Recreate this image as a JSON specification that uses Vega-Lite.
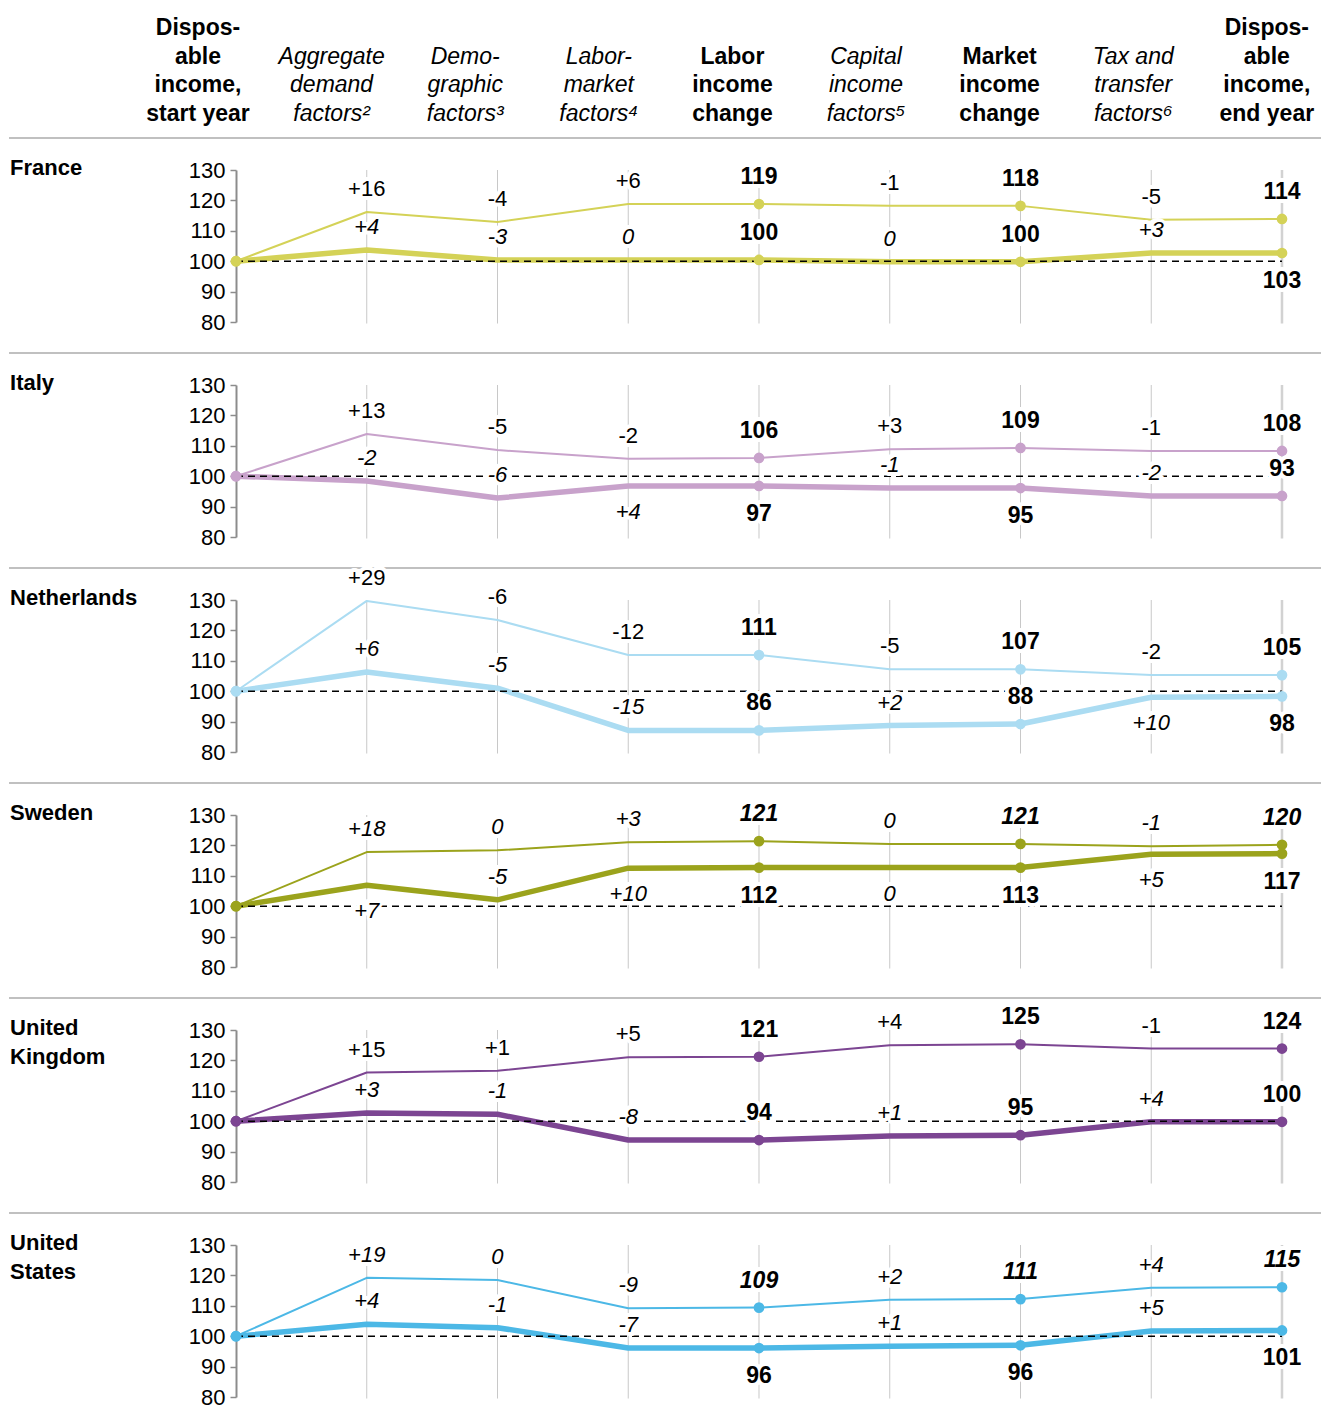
{
  "$schema": "https://vega.github.io/schema/vega-lite/v6.json",
  "padding": {"left": 8, "top": 0, "right": 0, "bottom": 0},
  "background": "white",
  "bounds": "flush",
  "spacing": 46,
  "config": {
    "view": {"stroke": null},
    "font": "Liberation Sans",
    "axis": {"title": null},
    "axisY": {"labelOverlap": false, "tickCount": 6, "labelFontSize": 22, "labelColor": "black", "labelPadding": 5, "domainColor": "#8c8c8c", "domainWidth": 2, "tickColor": "#8c8c8c", "tickSize": 6, "tickWidth": 1.5, "grid": false}
  },
  "resolve": {"scale": {"x": "independent", "y": "independent"}},
  "datasets": {
    "header": [
      {"step": 0, "title": "Dispos-|able|income,|start year"},
      {"step": 1, "title": "Aggregate|demand|factors²"},
      {"step": 2, "title": "Demo-|graphic|factors³"},
      {"step": 3, "title": "Labor-|market|factors⁴"},
      {"step": 4, "title": "Labor|income|change"},
      {"step": 5, "title": "Capital|income|factors⁵"},
      {"step": 6, "title": "Market|income|change"},
      {"step": 7, "title": "Tax and|transfer|factors⁶"},
      {"step": 8, "title": "Dispos-|able|income,|end year"}
    ],
    "panels": [
      {"country": "France", "series": "S1", "step": 0, "value": 100, "label": "", "side": ""},
      {"country": "France", "series": "S1", "step": 1, "value": 116.2, "label": "+16", "side": "above"},
      {"country": "France", "series": "S1", "step": 2, "value": 112.9, "label": "-4", "side": "above"},
      {"country": "France", "series": "S1", "step": 3, "value": 118.8, "label": "+6", "side": "above"},
      {"country": "France", "series": "S1", "step": 4, "value": 118.8, "label": "119", "side": "above"},
      {"country": "France", "series": "S1", "step": 5, "value": 118.2, "label": "-1", "side": "above"},
      {"country": "France", "series": "S1", "step": 6, "value": 118.2, "label": "118", "side": "above"},
      {"country": "France", "series": "S1", "step": 7, "value": 113.6, "label": "-5", "side": "above"},
      {"country": "France", "series": "S1", "step": 8, "value": 113.9, "label": "114", "side": "above"},
      {"country": "France", "series": "S2", "step": 0, "value": 100, "label": "", "side": ""},
      {"country": "France", "series": "S2", "step": 1, "value": 103.7, "label": "+4", "side": "above"},
      {"country": "France", "series": "S2", "step": 2, "value": 100.4, "label": "-3", "side": "above"},
      {"country": "France", "series": "S2", "step": 3, "value": 100.4, "label": "0", "side": "above"},
      {"country": "France", "series": "S2", "step": 4, "value": 100.4, "label": "100", "side": "above"},
      {"country": "France", "series": "S2", "step": 5, "value": 99.8, "label": "0", "side": "above"},
      {"country": "France", "series": "S2", "step": 6, "value": 99.8, "label": "100", "side": "above"},
      {"country": "France", "series": "S2", "step": 7, "value": 102.7, "label": "+3", "side": "above"},
      {"country": "France", "series": "S2", "step": 8, "value": 102.7, "label": "103", "side": "below"},

      {"country": "Italy", "series": "S1", "step": 0, "value": 100, "label": "", "side": ""},
      {"country": "Italy", "series": "S1", "step": 1, "value": 113.9, "label": "+13", "side": "above"},
      {"country": "Italy", "series": "S1", "step": 2, "value": 108.6, "label": "-5", "side": "above"},
      {"country": "Italy", "series": "S1", "step": 3, "value": 105.7, "label": "-2", "side": "above"},
      {"country": "Italy", "series": "S1", "step": 4, "value": 106, "label": "106", "side": "above"},
      {"country": "Italy", "series": "S1", "step": 5, "value": 108.9, "label": "+3", "side": "above"},
      {"country": "Italy", "series": "S1", "step": 6, "value": 109.3, "label": "109", "side": "above"},
      {"country": "Italy", "series": "S1", "step": 7, "value": 108.3, "label": "-1", "side": "above"},
      {"country": "Italy", "series": "S1", "step": 8, "value": 108.3, "label": "108", "side": "above"},
      {"country": "Italy", "series": "S2", "step": 0, "value": 100, "label": "", "side": ""},
      {"country": "Italy", "series": "S2", "step": 1, "value": 98.4, "label": "-2", "side": "above"},
      {"country": "Italy", "series": "S2", "step": 2, "value": 92.8, "label": "-6", "side": "above"},
      {"country": "Italy", "series": "S2", "step": 3, "value": 96.8, "label": "+4", "side": "below"},
      {"country": "Italy", "series": "S2", "step": 4, "value": 96.8, "label": "97", "side": "below"},
      {"country": "Italy", "series": "S2", "step": 5, "value": 96.1, "label": "-1", "side": "above"},
      {"country": "Italy", "series": "S2", "step": 6, "value": 96.1, "label": "95", "side": "below"},
      {"country": "Italy", "series": "S2", "step": 7, "value": 93.5, "label": "-2", "side": "above"},
      {"country": "Italy", "series": "S2", "step": 8, "value": 93.5, "label": "93", "side": "above"},

      {"country": "Netherlands", "series": "S1", "step": 0, "value": 100, "label": "", "side": ""},
      {"country": "Netherlands", "series": "S1", "step": 1, "value": 129.7, "label": "+29", "side": "above"},
      {"country": "Netherlands", "series": "S1", "step": 2, "value": 123.4, "label": "-6", "side": "above"},
      {"country": "Netherlands", "series": "S1", "step": 3, "value": 111.9, "label": "-12", "side": "above"},
      {"country": "Netherlands", "series": "S1", "step": 4, "value": 111.9, "label": "111", "side": "above"},
      {"country": "Netherlands", "series": "S1", "step": 5, "value": 107.2, "label": "-5", "side": "above"},
      {"country": "Netherlands", "series": "S1", "step": 6, "value": 107.2, "label": "107", "side": "above"},
      {"country": "Netherlands", "series": "S1", "step": 7, "value": 105.3, "label": "-2", "side": "above"},
      {"country": "Netherlands", "series": "S1", "step": 8, "value": 105.3, "label": "105", "side": "above"},
      {"country": "Netherlands", "series": "S2", "step": 0, "value": 100, "label": "", "side": ""},
      {"country": "Netherlands", "series": "S2", "step": 1, "value": 106.3, "label": "+6", "side": "above"},
      {"country": "Netherlands", "series": "S2", "step": 2, "value": 101, "label": "-5", "side": "above"},
      {"country": "Netherlands", "series": "S2", "step": 3, "value": 87.1, "label": "-15", "side": "above"},
      {"country": "Netherlands", "series": "S2", "step": 4, "value": 87.1, "label": "86", "side": "above"},
      {"country": "Netherlands", "series": "S2", "step": 5, "value": 88.7, "label": "+2", "side": "above"},
      {"country": "Netherlands", "series": "S2", "step": 6, "value": 89.2, "label": "88", "side": "above"},
      {"country": "Netherlands", "series": "S2", "step": 7, "value": 98, "label": "+10", "side": "below"},
      {"country": "Netherlands", "series": "S2", "step": 8, "value": 98.3, "label": "98", "side": "below"},

      {"country": "Sweden", "series": "S1", "step": 0, "value": 100, "label": "", "side": ""},
      {"country": "Sweden", "series": "S1", "step": 1, "value": 117.8, "label": "+18", "side": "above"},
      {"country": "Sweden", "series": "S1", "step": 2, "value": 118.4, "label": "0", "side": "above"},
      {"country": "Sweden", "series": "S1", "step": 3, "value": 121, "label": "+3", "side": "above"},
      {"country": "Sweden", "series": "S1", "step": 4, "value": 121.4, "label": "121", "side": "above"},
      {"country": "Sweden", "series": "S1", "step": 5, "value": 120.5, "label": "0", "side": "above"},
      {"country": "Sweden", "series": "S1", "step": 6, "value": 120.5, "label": "121", "side": "above"},
      {"country": "Sweden", "series": "S1", "step": 7, "value": 119.7, "label": "-1", "side": "above"},
      {"country": "Sweden", "series": "S1", "step": 8, "value": 120.2, "label": "120", "side": "above"},
      {"country": "Sweden", "series": "S2", "step": 0, "value": 100, "label": "", "side": ""},
      {"country": "Sweden", "series": "S2", "step": 1, "value": 106.9, "label": "+7", "side": "below"},
      {"country": "Sweden", "series": "S2", "step": 2, "value": 102.1, "label": "-5", "side": "above"},
      {"country": "Sweden", "series": "S2", "step": 3, "value": 112.5, "label": "+10", "side": "below"},
      {"country": "Sweden", "series": "S2", "step": 4, "value": 112.7, "label": "112", "side": "below"},
      {"country": "Sweden", "series": "S2", "step": 5, "value": 112.7, "label": "0", "side": "below"},
      {"country": "Sweden", "series": "S2", "step": 6, "value": 112.7, "label": "113", "side": "below"},
      {"country": "Sweden", "series": "S2", "step": 7, "value": 117.1, "label": "+5", "side": "below"},
      {"country": "Sweden", "series": "S2", "step": 8, "value": 117.3, "label": "117", "side": "below"},

      {"country": "United Kingdom", "series": "S1", "step": 0, "value": 100, "label": "", "side": ""},
      {"country": "United Kingdom", "series": "S1", "step": 1, "value": 116, "label": "+15", "side": "above"},
      {"country": "United Kingdom", "series": "S1", "step": 2, "value": 116.6, "label": "+1", "side": "above"},
      {"country": "United Kingdom", "series": "S1", "step": 3, "value": 121, "label": "+5", "side": "above"},
      {"country": "United Kingdom", "series": "S1", "step": 4, "value": 121.2, "label": "121", "side": "above"},
      {"country": "United Kingdom", "series": "S1", "step": 5, "value": 125, "label": "+4", "side": "above"},
      {"country": "United Kingdom", "series": "S1", "step": 6, "value": 125.3, "label": "125", "side": "above"},
      {"country": "United Kingdom", "series": "S1", "step": 7, "value": 123.9, "label": "-1", "side": "above"},
      {"country": "United Kingdom", "series": "S1", "step": 8, "value": 123.9, "label": "124", "side": "above"},
      {"country": "United Kingdom", "series": "S2", "step": 0, "value": 100, "label": "", "side": ""},
      {"country": "United Kingdom", "series": "S2", "step": 1, "value": 102.7, "label": "+3", "side": "above"},
      {"country": "United Kingdom", "series": "S2", "step": 2, "value": 102.3, "label": "-1", "side": "above"},
      {"country": "United Kingdom", "series": "S2", "step": 3, "value": 93.8, "label": "-8", "side": "above"},
      {"country": "United Kingdom", "series": "S2", "step": 4, "value": 93.8, "label": "94", "side": "above"},
      {"country": "United Kingdom", "series": "S2", "step": 5, "value": 95.1, "label": "+1", "side": "above"},
      {"country": "United Kingdom", "series": "S2", "step": 6, "value": 95.4, "label": "95", "side": "above"},
      {"country": "United Kingdom", "series": "S2", "step": 7, "value": 99.8, "label": "+4", "side": "above"},
      {"country": "United Kingdom", "series": "S2", "step": 8, "value": 99.8, "label": "100", "side": "above"},

      {"country": "United States", "series": "S1", "step": 0, "value": 100, "label": "", "side": ""},
      {"country": "United States", "series": "S1", "step": 1, "value": 119.2, "label": "+19", "side": "above"},
      {"country": "United States", "series": "S1", "step": 2, "value": 118.5, "label": "0", "side": "above"},
      {"country": "United States", "series": "S1", "step": 3, "value": 109.2, "label": "-9", "side": "above"},
      {"country": "United States", "series": "S1", "step": 4, "value": 109.4, "label": "109", "side": "above"},
      {"country": "United States", "series": "S1", "step": 5, "value": 112, "label": "+2", "side": "above"},
      {"country": "United States", "series": "S1", "step": 6, "value": 112.2, "label": "111", "side": "above"},
      {"country": "United States", "series": "S1", "step": 7, "value": 115.9, "label": "+4", "side": "above"},
      {"country": "United States", "series": "S1", "step": 8, "value": 116.1, "label": "115", "side": "above"},
      {"country": "United States", "series": "S2", "step": 0, "value": 100, "label": "", "side": ""},
      {"country": "United States", "series": "S2", "step": 1, "value": 103.9, "label": "+4", "side": "above"},
      {"country": "United States", "series": "S2", "step": 2, "value": 102.8, "label": "-1", "side": "above"},
      {"country": "United States", "series": "S2", "step": 3, "value": 96.1, "label": "-7", "side": "above"},
      {"country": "United States", "series": "S2", "step": 4, "value": 96.1, "label": "96", "side": "below"},
      {"country": "United States", "series": "S2", "step": 5, "value": 96.7, "label": "+1", "side": "above"},
      {"country": "United States", "series": "S2", "step": 6, "value": 97, "label": "96", "side": "below"},
      {"country": "United States", "series": "S2", "step": 7, "value": 101.7, "label": "+5", "side": "above"},
      {"country": "United States", "series": "S2", "step": 8, "value": 101.9, "label": "101", "side": "below"}
    ]
  },
  "vconcat": [
    {
      "width": 1086,
      "height": 124,
      "data": {"name": "header"},
      "encoding": {
        "x": {"field": "step", "type": "quantitative", "scale": {"domain": [0.2844, 8.413], "nice": false, "zero": false}, "axis": null},
        "text": {"field": "title"}
      },
      "layer": [
        {
          "transform": [{"filter": "datum.step == 0 || datum.step == 8"}],
          "mark": {"type": "text", "baseline": "top", "align": "center", "lineBreak": "|", "lineHeight": 28.5, "fontSize": 23, "fontWeight": "bold", "color": "black"},
          "encoding": {"y": {"datum": 0.86, "type": "quantitative", "scale": {"domain": [0, 1], "nice": false}, "axis": null}}
        },
        {
          "transform": [{"filter": "datum.step == 4 || datum.step == 6"}],
          "mark": {"type": "text", "baseline": "top", "align": "center", "lineBreak": "|", "lineHeight": 28.5, "fontSize": 23, "fontWeight": "bold", "color": "black"},
          "encoding": {"y": {"datum": 0.63, "type": "quantitative"}}
        },
        {
          "transform": [{"filter": "indexof([0,4,6,8], datum.step) < 0"}],
          "mark": {"type": "text", "baseline": "top", "align": "center", "lineBreak": "|", "lineHeight": 28.5, "fontSize": 23, "fontStyle": "italic", "color": "black"},
          "encoding": {"y": {"datum": 0.63, "type": "quantitative"}}
        }
      ]
    },
    {
      "data": {"name": "panels"},
      "bounds": "flush",
      "spacing": 63,
      "facet": {
        "row": {"field": "country", "type": "nominal", "header": null,
                "sort": ["France", "Italy", "Netherlands", "Sweden", "United Kingdom", "United States"]}
      },
      "spec": {
        "width": 1086,
        "height": 152,
        "layer": [
          {
            "mark": {"type": "point", "opacity": 0},
            "encoding": {
              "x": {"field": "step", "type": "quantitative", "scale": {"domain": [0, 8.306], "nice": false, "zero": false}, "axis": null},
              "y": {"field": "value", "type": "quantitative", "scale": {"domain": [80, 130], "nice": false, "zero": false},
                    "axis": {"values": [80, 90, 100, 110, 120, 130], "tickCount": 6, "labelOverlap": false, "title": null}}
            }
          },
          {
            "transform": [{"filter": "datum.series == 'S1' && datum.step >= 1 && datum.step <= 7"}],
            "mark": {"type": "rule", "color": "#c8c8c8", "strokeWidth": 1},
            "encoding": {
              "x": {"field": "step", "type": "quantitative"},
              "y": {"datum": 130, "type": "quantitative"},
              "y2": {"datum": 79.5}
            }
          },
          {
            "transform": [{"filter": "datum.series == 'S1' && datum.step == 8"}],
            "mark": {"type": "rule", "color": "#d2d2d2", "strokeWidth": 2.5},
            "encoding": {
              "x": {"field": "step", "type": "quantitative"},
              "y": {"datum": 79.5, "type": "quantitative"},
              "y2": {"datum": 130}
            }
          },
          {
            "transform": [{"filter": "datum.step == 0 && datum.series == 'S1'"}],
            "mark": {"type": "rule", "color": "#c0c0c0", "strokeWidth": 2, "clip": false},
            "encoding": {
              "x": {"datum": -1.736, "type": "quantitative"},
              "x2": {"datum": 8.306},
              "y": {"datum": 140.5, "type": "quantitative"}
            }
          },
          {
            "transform": [{"filter": "datum.step == 0 && datum.series == 'S1'"}],
            "mark": {"type": "text", "align": "left", "baseline": "top", "fontSize": 22, "fontWeight": "bold", "lineBreak": " ", "lineHeight": 29, "color": "black"},
            "encoding": {
              "x": {"datum": -1.728, "type": "quantitative"},
              "y": {"datum": 134.0, "type": "quantitative"},
              "text": {"field": "country"}
            }
          },
          {
            "mark": {"type": "line", "strokeJoin": "round"},
            "encoding": {
              "x": {"field": "step", "type": "quantitative"},
              "y": {"field": "value", "type": "quantitative"},
              "detail": {"field": "series"},
              "color": {"field": "country", "type": "nominal", "legend": null,
                        "scale": {"domain": ["France", "Italy", "Netherlands", "Sweden", "United Kingdom", "United States"],
                                  "range": ["#d4d257", "#c8a2cb", "#abdcf2", "#9ba31c", "#7c4592", "#4cb8e6"]}},
              "strokeWidth": {"field": "series", "type": "nominal", "legend": null, "scale": {"domain": ["S1", "S2"], "range": [2, 5.5]}}
            }
          },
          {
            "transform": [{"filter": "datum.step == 0 && datum.series == 'S1'"}],
            "mark": {"type": "rule", "color": "black", "strokeWidth": 1.5, "strokeDash": [7, 5]},
            "encoding": {
              "x": {"datum": 0, "type": "quantitative"},
              "x2": {"datum": 8},
              "y": {"datum": 100, "type": "quantitative"}
            }
          },
          {
            "transform": [{"filter": "indexof([0,4,6,8], datum.step) >= 0"}],
            "mark": {"type": "circle", "size": 115, "opacity": 1},
            "encoding": {
              "x": {"field": "step", "type": "quantitative"},
              "y": {"field": "value", "type": "quantitative"},
              "color": {"field": "country", "type": "nominal", "legend": null}
            }
          },
          {
            "transform": [{"filter": "indexof([1,2,3,5,7], datum.step) >= 0 && datum.side == 'above'"}],
            "mark": {"type": "text", "dy": -23, "fontSize": 22, "fill": "white", "stroke": "white", "strokeWidth": 8, "strokeJoin": "round"},
            "encoding": {"x": {"field": "step", "type": "quantitative"}, "y": {"field": "value", "type": "quantitative"}, "text": {"field": "label"}}
          },
          {
            "transform": [{"filter": "indexof([1,2,3,5,7], datum.step) >= 0 && datum.side == 'below'"}],
            "mark": {"type": "text", "dy": 26, "fontSize": 22, "fill": "white", "stroke": "white", "strokeWidth": 8, "strokeJoin": "round"},
            "encoding": {"x": {"field": "step", "type": "quantitative"}, "y": {"field": "value", "type": "quantitative"}, "text": {"field": "label"}}
          },
          {
            "transform": [{"filter": "indexof([4,6,8], datum.step) >= 0 && datum.side == 'above'"}],
            "mark": {"type": "text", "dy": -27, "fontSize": 23, "fontWeight": "bold", "fill": "white", "stroke": "white", "strokeWidth": 8, "strokeJoin": "round"},
            "encoding": {"x": {"field": "step", "type": "quantitative"}, "y": {"field": "value", "type": "quantitative"}, "text": {"field": "label"}}
          },
          {
            "transform": [{"filter": "indexof([4,6,8], datum.step) >= 0 && datum.side == 'below'"}],
            "mark": {"type": "text", "dy": 28, "fontSize": 23, "fontWeight": "bold", "fill": "white", "stroke": "white", "strokeWidth": 8, "strokeJoin": "round"},
            "encoding": {"x": {"field": "step", "type": "quantitative"}, "y": {"field": "value", "type": "quantitative"}, "text": {"field": "label"}}
          },
          {
            "transform": [{"filter": "indexof([1,2,3,5,7], datum.step) >= 0 && datum.side == 'above' && !(datum.series == 'S2' || datum.country == 'Sweden' || datum.country == 'United States')"}],
            "mark": {"type": "text", "dy": -23, "fontSize": 22, "color": "black"},
            "encoding": {"x": {"field": "step", "type": "quantitative"}, "y": {"field": "value", "type": "quantitative"}, "text": {"field": "label"}}
          },
          {
            "transform": [{"filter": "indexof([1,2,3,5,7], datum.step) >= 0 && datum.side == 'above' && (datum.series == 'S2' || datum.country == 'Sweden' || datum.country == 'United States')"}],
            "mark": {"type": "text", "dy": -23, "fontSize": 22, "fontStyle": "italic", "color": "black"},
            "encoding": {"x": {"field": "step", "type": "quantitative"}, "y": {"field": "value", "type": "quantitative"}, "text": {"field": "label"}}
          },
          {
            "transform": [{"filter": "indexof([1,2,3,5,7], datum.step) >= 0 && datum.side == 'below' && !(datum.series == 'S2' || datum.country == 'Sweden' || datum.country == 'United States')"}],
            "mark": {"type": "text", "dy": 26, "fontSize": 22, "color": "black"},
            "encoding": {"x": {"field": "step", "type": "quantitative"}, "y": {"field": "value", "type": "quantitative"}, "text": {"field": "label"}}
          },
          {
            "transform": [{"filter": "indexof([1,2,3,5,7], datum.step) >= 0 && datum.side == 'below' && (datum.series == 'S2' || datum.country == 'Sweden' || datum.country == 'United States')"}],
            "mark": {"type": "text", "dy": 26, "fontSize": 22, "fontStyle": "italic", "color": "black"},
            "encoding": {"x": {"field": "step", "type": "quantitative"}, "y": {"field": "value", "type": "quantitative"}, "text": {"field": "label"}}
          },
          {
            "transform": [{"filter": "indexof([4,6,8], datum.step) >= 0 && datum.side == 'above' && !(datum.series == 'S1' && (datum.country == 'Sweden' || datum.country == 'United States'))"}],
            "mark": {"type": "text", "dy": -27, "fontSize": 23, "fontWeight": "bold", "color": "black"},
            "encoding": {"x": {"field": "step", "type": "quantitative"}, "y": {"field": "value", "type": "quantitative"}, "text": {"field": "label"}}
          },
          {
            "transform": [{"filter": "indexof([4,6,8], datum.step) >= 0 && datum.side == 'above' && (datum.series == 'S1' && (datum.country == 'Sweden' || datum.country == 'United States'))"}],
            "mark": {"type": "text", "dy": -27, "fontSize": 23, "fontWeight": "bold", "fontStyle": "italic", "color": "black"},
            "encoding": {"x": {"field": "step", "type": "quantitative"}, "y": {"field": "value", "type": "quantitative"}, "text": {"field": "label"}}
          },
          {
            "transform": [{"filter": "indexof([4,6,8], datum.step) >= 0 && datum.side == 'below'"}],
            "mark": {"type": "text", "dy": 28, "fontSize": 23, "fontWeight": "bold", "color": "black"},
            "encoding": {"x": {"field": "step", "type": "quantitative"}, "y": {"field": "value", "type": "quantitative"}, "text": {"field": "label"}}
          }
        ]
      }
    }
  ]
}
